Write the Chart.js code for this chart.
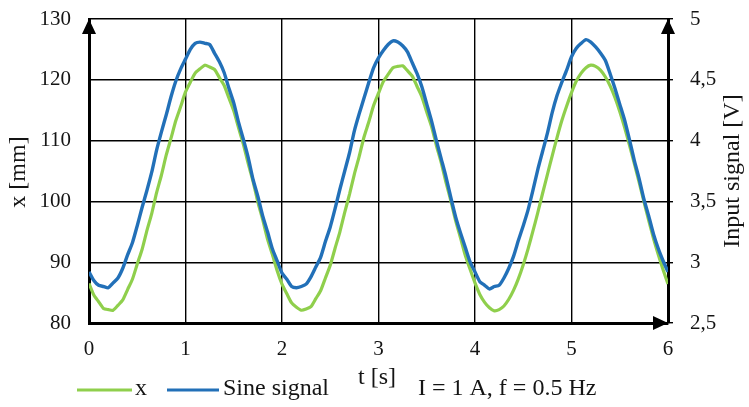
<!DOCTYPE html>
<html>
<head>
<meta charset="utf-8">
<title>x and sine signal</title>
<script src="https://cdn.jsdelivr.net/npm/chart.js@4.4.1/dist/chart.umd.min.js"></script>
<style>
  html, body { margin: 0; padding: 0; background: #fff; }
  #wrap { width: 749px; height: 407px; }
</style>
</head>
<body>
<div id="wrap"><canvas id="myChart" width="749" height="407"></canvas></div>
<script>
// time [s]
const time = [
  0, 0.05, 0.1, 0.15, 0.2, 0.25, 0.3, 0.35, 0.4, 0.45, 0.5, 0.55, 0.6, 0.65, 0.7, 0.75, 0.8, 0.85, 0.9, 0.95,
  1, 1.05, 1.1, 1.15, 1.2, 1.25, 1.3, 1.35, 1.4, 1.45, 1.5, 1.55, 1.6, 1.65, 1.7, 1.75, 1.8, 1.85, 1.9, 1.95,
  2, 2.05, 2.1, 2.15, 2.2, 2.25, 2.3, 2.35, 2.4, 2.45, 2.5, 2.55, 2.6, 2.65, 2.7, 2.75, 2.8, 2.85, 2.9, 2.95,
  3, 3.05, 3.1, 3.15, 3.2, 3.25, 3.3, 3.35, 3.4, 3.45, 3.5, 3.55, 3.6, 3.65, 3.7, 3.75, 3.8, 3.85, 3.9, 3.95,
  4, 4.05, 4.1, 4.15, 4.2, 4.25, 4.3, 4.35, 4.4, 4.45, 4.5, 4.55, 4.6, 4.65, 4.7, 4.75, 4.8, 4.85, 4.9, 4.95,
  5, 5.05, 5.1, 5.15, 5.2, 5.25, 5.3, 5.35, 5.4, 5.45, 5.5, 5.55, 5.6, 5.65, 5.7, 5.75, 5.8, 5.85, 5.9, 5.95,
  6
];

// x [mm] (left axis)
const xPos = [
  86.5, 84.6, 83.5, 82.4, 82.2, 82.1, 82.9, 83.8, 85.5, 87.2, 89.7, 92.1, 95.2, 98.0, 101.4, 104.3, 107.6, 110.4, 113.3, 115.6,
  118.0, 119.6, 121.1, 121.8, 122.4, 122.1, 121.7, 120.4, 119.1, 117.0, 114.9, 112.1, 109.4, 106.2, 103.3, 99.9, 97.0, 93.8, 91.3, 88.6,
  86.4, 84.8, 83.3, 82.6, 82.1, 82.3, 82.7, 84.0, 85.3, 87.4, 89.5, 92.3, 95.0, 98.2, 101.2, 104.5, 107.4, 110.6, 113.1, 115.8,
  117.8, 119.7, 120.9, 122.0, 122.2, 122.3, 121.5, 120.6, 118.9, 117.2, 114.7, 112.3, 109.2, 106.4, 103.1, 100.1, 96.8, 94.0, 91.1, 88.8,
  86.6, 84.7, 83.4, 82.5, 82.0, 82.2, 82.8, 83.9, 85.4, 87.3, 89.6, 92.2, 95.1, 98.1, 101.3, 104.4, 107.5, 110.5, 113.3, 115.7,
  117.9, 119.8, 121.1, 122.0, 122.4, 122.2, 121.6, 120.5, 119.0, 117.1, 114.8, 112.2, 109.3, 106.3, 103.2, 100.0, 96.9, 93.9, 91.2, 88.7,
  86.4
];

// Sine signal [V] (right axis)
const sineSignal = [
  2.92, 2.85, 2.81, 2.80, 2.79, 2.83, 2.87, 2.95, 3.06, 3.16, 3.30, 3.45, 3.59, 3.74, 3.92, 4.07, 4.21, 4.36, 4.49, 4.59,
  4.67, 4.75, 4.80, 4.81, 4.80, 4.79, 4.72, 4.65, 4.56, 4.43, 4.31, 4.15, 4.01, 3.86, 3.68, 3.54, 3.38, 3.25, 3.11, 3.01,
  2.91, 2.86, 2.80, 2.79, 2.80, 2.82, 2.88, 2.96, 3.04, 3.17, 3.29, 3.44, 3.60, 3.75, 3.90, 4.08, 4.22, 4.35, 4.48, 4.60,
  4.68, 4.74, 4.79, 4.82, 4.81, 4.78, 4.73, 4.64, 4.55, 4.44, 4.30, 4.16, 4.00, 3.85, 3.70, 3.53, 3.37, 3.24, 3.12, 3.00,
  2.92, 2.84, 2.81, 2.78, 2.80, 2.81, 2.87, 2.95, 3.05, 3.18, 3.30, 3.43, 3.59, 3.76, 3.91, 4.06, 4.23, 4.37, 4.48, 4.58,
  4.69, 4.76, 4.80, 4.83, 4.81, 4.77, 4.72, 4.66, 4.55, 4.43, 4.30, 4.17, 4.01, 3.84, 3.69, 3.52, 3.38, 3.23, 3.11, 3.01,
  2.92
];

const xTicks = [0, 1, 2, 3, 4, 5, 6];
const leftTicks = [80, 90, 100, 110, 120, 130];
const rightTicks = [2.5, 3, 3.5, 4, 4.5, 5];

const seriesNames = ['x', 'Sine signal'];
const xTitle = 't [s]';
const leftTitle = 'x [mm]';
const rightTitle = 'Input signal [V]';
const note = 'I = 1 A, f = 0.5 Hz';

const GREEN = '#8fcf4c';
const BLUE = '#2270b8';
const SERIF = '"Liberation Serif", "Times New Roman", serif';
const TEXT = '#141414';

// arrows, titles and legend drawn on top
const decorations = {
    id: 'decorations',
    afterDraw(chart) {
        const c = chart.ctx;
        const a = chart.chartArea;
        c.save();
        c.fillStyle = '#000';
        // up arrows on both vertical axes
        [a.left, a.right].forEach(px => {
            c.beginPath();
            c.moveTo(px, a.top);
            c.lineTo(px - 7, a.top + 15);
            c.lineTo(px + 7, a.top + 15);
            c.closePath();
            c.fill();
        });
        // right arrow on time axis
        c.beginPath();
        c.moveTo(a.right, a.bottom);
        c.lineTo(a.right - 15, a.bottom - 7);
        c.lineTo(a.right - 15, a.bottom + 7);
        c.closePath();
        c.fill();

        c.fillStyle = TEXT;
        c.font = '24px ' + SERIF;
        c.textBaseline = 'middle';
        // axis titles
        c.save();
        c.translate(19, 172);
        c.rotate(-Math.PI / 2);
        c.textAlign = 'center';
        c.fillText(leftTitle, 0, 0);
        c.restore();
        c.save();
        c.translate(733, 171);
        c.rotate(-Math.PI / 2);
        c.textAlign = 'center';
        c.fillText(rightTitle, 0, 0);
        c.restore();

        c.textAlign = 'left';
        c.fillText(xTitle, 358, 378);
        c.fillText(note, 418, 389);

        // legend
        const items = [
            { x0: 77, x1: 132, color: GREEN, label: seriesNames[0], tx: 135 },
            { x0: 167, x1: 219, color: BLUE, label: seriesNames[1], tx: 223 }
        ];
        items.forEach(it => {
            c.strokeStyle = it.color;
            c.lineWidth = 3;
            c.beginPath();
            c.moveTo(it.x0, 390);
            c.lineTo(it.x1, 390);
            c.stroke();
            c.fillText(it.label, it.tx, 389);
        });
        c.restore();
    }
};

// fixed axis box sizes so the plot area sits where the original one does
function fitY(width) {
    return s => {
        s.width = width;
        s.paddingTop = 0;
        s.paddingBottom = 0;
    };
}

const ctx = document.getElementById('myChart').getContext('2d');
const myChart = new Chart(ctx, {
    type: 'line',
    data: {
        datasets: [{
            label: seriesNames[0],
            data: time.map((t, i) => ({ x: t, y: xPos[i] })),
            borderColor: GREEN,
            borderWidth: 3.2,
            pointRadius: 0,
            tension: 0.2,
            yAxisID: 'y',
            order: 1
        }, {
            label: seriesNames[1],
            data: time.map((t, i) => ({ x: t, y: sineSignal[i] })),
            borderColor: BLUE,
            borderWidth: 3.4,
            pointRadius: 0,
            tension: 0.2,
            yAxisID: 'y2',
            order: 0
        }]
    },
    options: {
        responsive: false,
        animation: false,
        layout: { padding: { top: 19, left: 0, right: 0, bottom: 0 } },
        plugins: {
            legend: { display: false },
            tooltip: { enabled: false }
        },
        scales: {
            x: {
                type: 'linear',
                min: xTicks[0],
                max: xTicks[xTicks.length - 1],
                afterBuildTicks: s => { s.ticks = xTicks.map(v => ({ value: v })); },
                afterFit: s => { s.height = 84; s.paddingLeft = 0; s.paddingRight = 0; },
                grid: { color: '#000', lineWidth: 1.4, drawTicks: false },
                border: { color: '#000', width: 3 },
                ticks: {
                    color: TEXT,
                    font: { family: SERIF, size: 21 },
                    padding: 14
                }
            },
            y: {
                position: 'left',
                min: leftTicks[0],
                max: leftTicks[leftTicks.length - 1],
                afterBuildTicks: s => { s.ticks = leftTicks.map(v => ({ value: v })); },
                afterFit: fitY(89),
                grid: { color: '#000', lineWidth: 1.4, drawTicks: false },
                border: { color: '#000', width: 3 },
                ticks: {
                    color: TEXT,
                    font: { family: SERIF, size: 21 },
                    padding: 18
                }
            },
            y2: {
                position: 'right',
                min: rightTicks[0],
                max: rightTicks[rightTicks.length - 1],
                afterBuildTicks: s => { s.ticks = rightTicks.map(v => ({ value: v })); },
                afterFit: fitY(81),
                grid: { drawOnChartArea: false, color: '#000', lineWidth: 1.4, tickLength: 5 },
                border: { color: '#000', width: 3 },
                ticks: {
                    color: TEXT,
                    font: { family: SERIF, size: 21 },
                    padding: 17,
                    callback: v => String(v).replace('.', ',')
                }
            }
        }
    },
    plugins: [decorations]
});
</script>
</body>
</html>
